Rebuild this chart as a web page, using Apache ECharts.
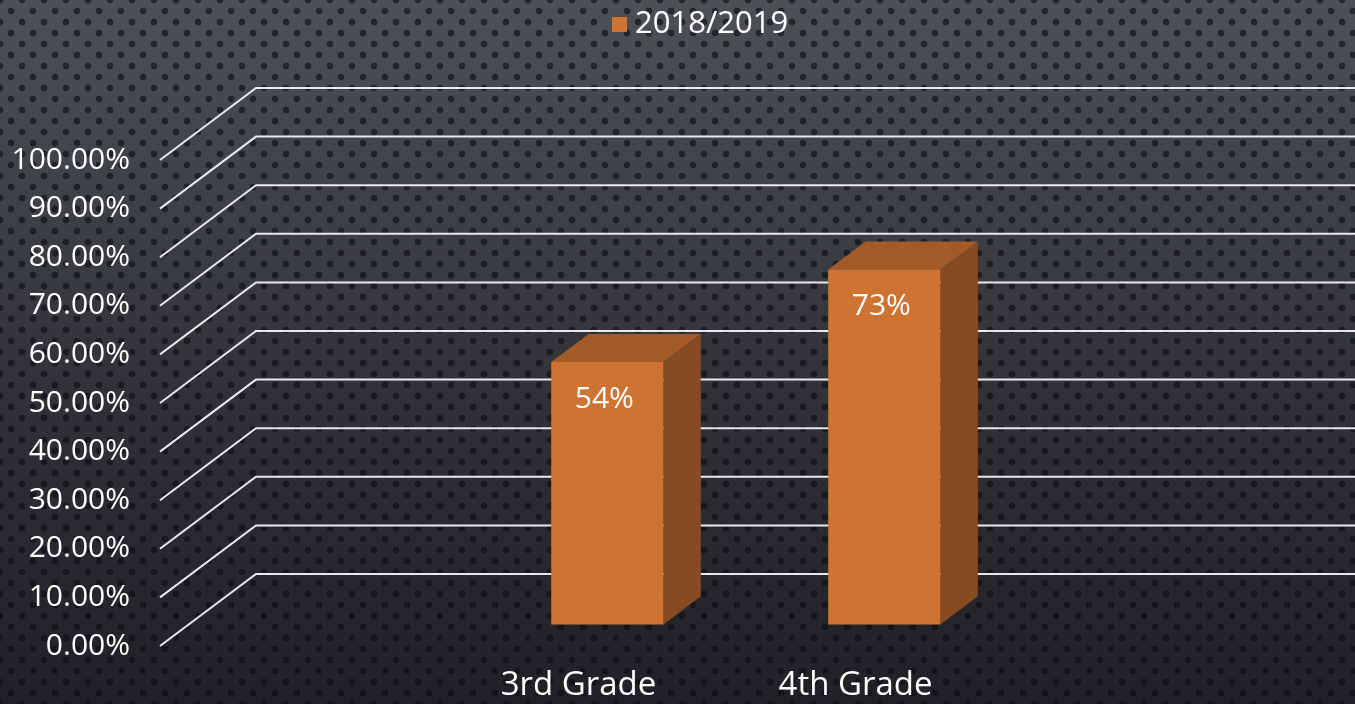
<!DOCTYPE html>
<html>
<head>
<meta charset="utf-8">
<script src="https://cdn.jsdelivr.net/npm/echarts@6/dist/echarts.min.js"></script>
<style>
  html, body { margin: 0; padding: 0; }
  body {
    width: 1355px; height: 704px; overflow: hidden;
    background:
      radial-gradient(circle, rgba(10,12,16,0.6) 2.9px, rgba(0,0,0,0) 3.8px) 0 0 / 22px 22px,
      radial-gradient(circle, rgba(10,12,16,0.6) 2.9px, rgba(0,0,0,0) 3.8px) 11px 11px / 22px 22px,
      linear-gradient(#4d5055, #303236 55%, #202124);
  }
  #main { width: 1355px; height: 704px; }
</style>
</head>
<body>
<div id="main"></div>
<script>
const categories = ['3rd Grade', '4th Grade'];
const values = [54, 73];
const yTicks = [0, 10, 20, 30, 40, 50, 60, 70, 80, 90, 100];
const seriesName = '2018/2019';

// oblique depth of the 3d floor / back wall
const DX = 96, DY = -72;
const FONT = '"Open Sans", "DejaVu Sans", sans-serif';

function renderGrid(params, api) {
  const cs = params.coordSys;
  const y = api.coord([0, api.value(0)])[1];
  return {
    type: 'polyline',
    shape: { points: [[cs.x, y], [cs.x + DX, y + DY], [cs.x + cs.width, y + DY]] },
    style: { stroke: '#e9e9e9', lineWidth: 2, fill: null }
  };
}

function renderBar(params, api) {
  const cat = api.value(0), v = api.value(1);
  const base = api.coord([cat, 0]);
  const top = api.coord([cat, v]);
  const w = api.size([1, 0])[0] * 0.405;
  const f0 = 0.3, f1 = 0.69;
  const x = base[0] - w / 2 + DX * f0;
  const yb = base[1] + DY * f0, yt = top[1] + DY * f0;
  const ddx = DX * (f1 - f0), ddy = DY * (f1 - f0);
  return {
    type: 'group',
    children: [
      { type: 'polygon', shape: { points: [[x + w, yt], [x + w + ddx, yt + ddy], [x + w + ddx, yb + ddy], [x + w, yb]] },
        style: { fill: '#864b20' } },
      { type: 'polygon', shape: { points: [[x, yt], [x + w, yt], [x + w + ddx, yt + ddy], [x + ddx, yt + ddy]] },
        style: { fill: '#a25a29' } },
      { type: 'rect', shape: { x: x, y: yt, width: w, height: yb - yt },
        style: { fill: '#cf7333' } },
      { type: 'text',
        style: { text: v + '%', x: x + w / 2 - 3, y: yt + 37, fill: '#ffffff',
          font: '30px ' + FONT, align: 'center', verticalAlign: 'middle' } }
    ]
  };
}

const chart = echarts.init(document.getElementById('main'));
chart.setOption({
  backgroundColor: 'transparent',
  animation: false,
  textStyle: { fontFamily: FONT },
  legend: {
    left: 607, top: 4,
    itemWidth: 15, itemHeight: 15, itemGap: 8,
    icon: 'rect',
    textStyle: { color: '#ffffff', fontSize: 31, fontFamily: FONT, padding: [0, 0, 0, 3] },
    data: [seriesName]
  },
  grid: [
    { left: 160, right: 0, top: 160, bottom: 58 },
    { left: 440, width: 554, top: 160, bottom: 58 }
  ],
  xAxis: [
    { gridIndex: 0, type: 'value', min: 0, max: 1, show: false },
    { gridIndex: 1, type: 'category', data: categories,
      axisLine: { show: false }, axisTick: { show: false },
      axisLabel: { color: '#ffffff', fontSize: 33, fontFamily: FONT, margin: 23 } }
  ],
  yAxis: [
    { gridIndex: 0, type: 'value', min: 0, max: 100, interval: 10,
      axisLine: { show: false }, axisTick: { show: false }, splitLine: { show: false },
      axisLabel: { color: '#ffffff', fontSize: 30, fontFamily: FONT, margin: 30,
        formatter: v => v.toFixed(2) + '%' } },
    { gridIndex: 1, type: 'value', min: 0, max: 100, interval: 10, show: false }
  ],
  series: [
    { type: 'custom', name: 'grid', xAxisIndex: 0, yAxisIndex: 0, silent: true,
      renderItem: renderGrid, data: yTicks.map(t => [t]), z: 1 },
    { type: 'custom', name: seriesName, xAxisIndex: 1, yAxisIndex: 1,
      itemStyle: { color: '#cf7333' },
      encode: { x: 0, y: 1 },
      renderItem: renderBar, data: values.map((v, i) => [i, v]), z: 2 }
  ]
});
</script>
</body>
</html>
